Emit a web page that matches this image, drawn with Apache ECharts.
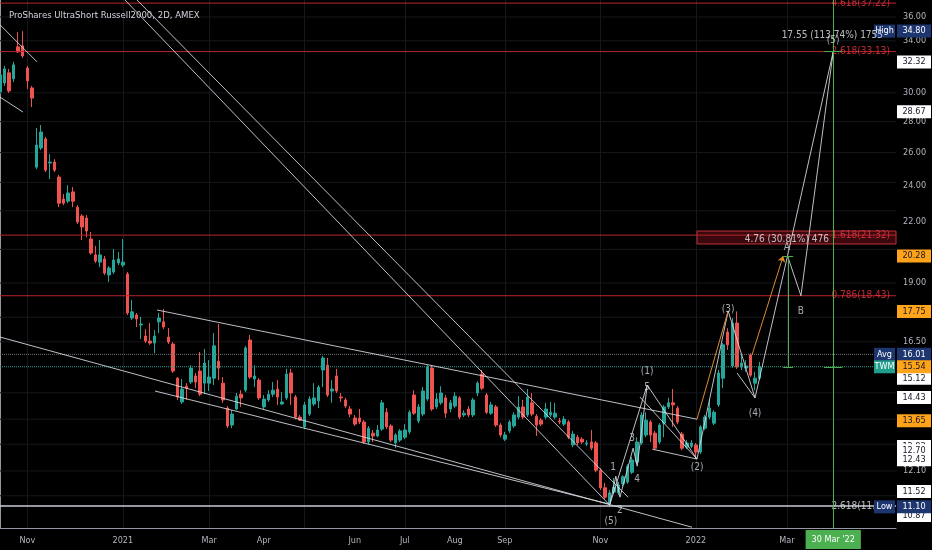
<!DOCTYPE html>
<html>
<head>
<meta charset="utf-8">
<script src="https://cdn.jsdelivr.net/npm/echarts@6/dist/echarts.min.js"></script>
<style>
html, body { margin: 0; padding: 0; background: #000; }
#chart { width: 932px; height: 550px; }
</style>
</head>
<body>
<div id="chart"></div>
<script>
// ProShares UltraShort Russell2000 (TWM), 2D candles, log price scale

const chartTitle = 'ProShares UltraShort Russell2000, 2D, AMEX';
const barCount = 198; // bars incl. empty space on the right

// [open, close, low, high] per 2-day bar
const ohlc = [
    [30.07, 31.33, 29.85, 31.55], [30.73, 31.78, 30.51, 32.01], [31.48, 30.14, 30.00, 31.78], [31.03, 32.09, 30.80, 32.32],
    [33.51, 33.10, 33.02, 34.70], [33.59, 32.79, 32.63, 34.80], [31.85, 30.88, 30.28, 32.01], [30.36, 29.63, 29.00, 30.51],
    [25.10, 26.47, 24.98, 27.57], [26.28, 27.31, 26.15, 27.77], [26.86, 24.92, 24.80, 26.99], [25.35, 25.41, 24.39, 25.90],
    [25.41, 24.92, 24.80, 25.59], [24.51, 23.02, 22.80, 24.63], [23.25, 23.02, 22.91, 23.53], [23.13, 23.59, 23.02, 24.04],
    [23.65, 23.13, 22.80, 23.93], [22.80, 22.00, 21.90, 22.91], [22.32, 21.74, 21.07, 22.42], [22.21, 21.53, 21.22, 22.37],
    [21.12, 20.42, 20.33, 21.48], [20.33, 20.03, 19.94, 20.77], [19.98, 20.33, 19.74, 21.07], [20.13, 19.46, 19.37, 20.28],
    [19.37, 19.70, 19.05, 19.79], [19.51, 20.08, 19.42, 20.62], [19.94, 20.13, 19.84, 20.47], [19.84, 19.98, 19.74, 21.12],
    [19.42, 17.68, 17.60, 19.51], [17.47, 17.73, 17.39, 18.24], [17.60, 17.43, 17.10, 17.68], [17.18, 17.22, 16.61, 17.52],
    [16.73, 16.53, 16.45, 17.01], [16.53, 16.45, 16.38, 17.26], [16.45, 16.73, 16.06, 16.97], [17.31, 17.47, 16.85, 17.68],
    [17.31, 17.10, 17.01, 17.85], [16.69, 16.49, 16.41, 17.05], [16.41, 15.38, 15.31, 16.49], [15.12, 14.45, 14.35, 15.16],
    [14.28, 14.73, 14.21, 15.09], [14.83, 14.76, 14.35, 14.94], [14.98, 15.49, 14.91, 15.60], [15.20, 14.98, 14.76, 15.31],
    [15.38, 14.55, 14.48, 16.10], [14.94, 15.68, 14.55, 16.22], [14.94, 15.16, 14.66, 15.79], [15.12, 16.34, 14.87, 16.85],
    [15.75, 15.49, 15.05, 17.22], [14.94, 14.35, 14.25, 15.16], [14.07, 13.48, 13.41, 14.14], [13.51, 13.87, 13.41, 14.00],
    [14.04, 14.48, 14.00, 14.59], [14.55, 14.42, 14.11, 14.69], [14.69, 16.26, 14.62, 16.34], [16.57, 15.16, 15.09, 16.77],
    [15.09, 15.20, 14.80, 15.60], [15.05, 14.42, 14.35, 15.12], [14.11, 14.38, 14.04, 14.52], [14.35, 14.55, 14.28, 14.69],
    [14.55, 14.69, 14.45, 14.98], [14.73, 14.45, 14.18, 15.05], [14.21, 14.28, 14.18, 14.62], [14.42, 15.27, 14.35, 15.46],
    [15.31, 14.59, 14.18, 15.46], [14.45, 13.77, 13.70, 14.52], [13.77, 13.67, 13.64, 13.84], [13.45, 14.18, 13.38, 14.28],
    [13.87, 14.38, 13.80, 14.48], [14.21, 14.42, 14.14, 14.94], [14.32, 14.80, 14.07, 14.87], [15.42, 15.87, 14.80, 15.95],
    [15.60, 14.52, 14.45, 15.87], [14.66, 14.73, 14.25, 15.05], [15.20, 14.66, 14.59, 15.46], [14.45, 14.42, 14.28, 14.59],
    [14.35, 14.14, 14.07, 14.42], [14.04, 13.87, 13.77, 14.14], [13.74, 13.54, 13.48, 13.84], [13.74, 13.61, 13.54, 14.04],
    [13.61, 12.97, 12.91, 13.67], [12.97, 13.41, 12.88, 13.48], [13.25, 13.16, 12.97, 13.35], [13.16, 13.35, 13.12, 13.51],
    [13.38, 14.25, 13.32, 14.35], [13.93, 13.45, 13.38, 14.07], [13.48, 13.03, 12.97, 13.54], [12.94, 13.19, 12.78, 13.25],
    [13.03, 13.32, 12.97, 13.38], [13.12, 13.35, 13.06, 13.54], [13.29, 13.93, 13.22, 14.00], [14.52, 13.90, 13.84, 14.69],
    [13.64, 14.11, 13.57, 14.21], [13.87, 14.66, 13.80, 14.80], [14.38, 15.53, 14.32, 15.60], [15.49, 14.04, 13.97, 15.57],
    [14.11, 14.38, 14.04, 14.59], [14.25, 14.59, 14.18, 14.83], [14.42, 13.90, 13.74, 14.52], [14.04, 14.25, 13.93, 14.35],
    [14.14, 14.48, 14.07, 14.62], [14.42, 13.77, 13.70, 14.48], [13.84, 13.90, 13.77, 14.00], [14.04, 13.84, 13.77, 14.14],
    [13.84, 14.35, 13.77, 14.42], [14.59, 14.94, 14.48, 15.01], [15.27, 14.76, 14.69, 15.42], [14.52, 13.93, 13.87, 14.59],
    [13.90, 14.18, 13.84, 14.28], [14.11, 13.51, 13.45, 14.18], [13.51, 13.19, 13.12, 13.57], [13.06, 13.19, 13.00, 13.29],
    [13.32, 13.61, 13.25, 13.67], [13.48, 13.84, 13.41, 13.93], [13.77, 14.11, 13.70, 14.48], [14.11, 13.77, 13.70, 14.35],
    [13.84, 14.45, 13.77, 14.73], [14.25, 13.87, 13.80, 14.59], [13.80, 13.51, 13.16, 13.87], [13.67, 13.54, 13.48, 13.74],
    [13.77, 14.04, 13.70, 14.25], [13.84, 13.93, 13.77, 14.28], [13.77, 13.90, 13.70, 14.25], [13.64, 13.61, 13.54, 13.74],
    [13.54, 13.70, 13.48, 13.80], [13.61, 13.12, 13.06, 13.67], [12.88, 13.22, 12.81, 13.32], [13.12, 12.94, 12.88, 13.19],
    [13.06, 12.97, 12.91, 13.12], [12.91, 12.94, 12.84, 13.03], [12.97, 12.78, 12.72, 13.35], [12.94, 12.12, 12.06, 13.00],
    [12.12, 11.62, 11.56, 12.18], [11.62, 11.36, 11.31, 11.76], [11.20, 11.48, 11.10, 11.56], [11.50, 11.64, 11.45, 11.90],
    [11.48, 11.70, 11.42, 11.78], [11.73, 11.93, 11.67, 11.98], [11.78, 12.24, 11.73, 12.30], [12.06, 12.42, 12.01, 12.51],
    [12.36, 12.97, 12.30, 13.12], [12.94, 13.84, 12.88, 13.93], [13.19, 13.67, 13.12, 13.93], [13.61, 13.19, 12.97, 13.67],
    [13.25, 12.78, 12.72, 13.32], [12.97, 13.51, 12.91, 13.57], [13.57, 14.11, 13.12, 14.18], [14.11, 14.25, 14.04, 14.42],
    [14.25, 14.18, 13.45, 14.73], [14.07, 13.61, 13.54, 14.14], [13.22, 12.78, 12.72, 13.29], [12.81, 12.94, 12.75, 13.03],
    [12.84, 12.94, 12.78, 13.03], [12.88, 12.66, 12.45, 12.94], [12.66, 13.45, 12.60, 13.51], [13.41, 13.77, 13.35, 13.84],
    [13.77, 14.07, 13.70, 14.35], [13.57, 13.93, 13.51, 14.00], [14.18, 15.31, 14.11, 15.42], [15.12, 16.38, 14.76, 16.45],
    [16.89, 16.38, 16.18, 17.05], [15.57, 17.26, 15.49, 17.47], [17.26, 15.53, 15.46, 17.75], [15.53, 15.68, 15.42, 15.99],
    [15.49, 15.57, 15.35, 15.79], [15.99, 15.23, 15.16, 16.06], [14.94, 15.12, 14.69, 15.35], [15.12, 15.54, 15.05, 15.72]
];

// time axis labels (bar index -> text)
const xTickIdx = [6, 27, 46, 58, 78, 89, 100, 111, 132, 153, 173];
const xTickText = ['Nov', '2021', 'Mar', 'Apr', 'Jun', 'Jul', 'Aug', 'Sep', 'Nov', '2022', 'Mar'];
const xGridIdx = [6, 27, 46, 67, 89, 111, 132, 153, 173];

// price axis
const yTicks = [36, 34, 30, 28, 26, 24, 22, 19, 16.5, 12.1];
const yGrid = [36, 34, 30, 28, 26, 24.2, 22.6, 20.6, 19, 17.5, 16.5, 14.6, 13.7, 12.9, 12.1, 11.4];

// fib levels
const fibPrices = [37.22, 33.13, 21.32, 18.43];
const fibText = ['4.618(37.22)', '2.618(33.13)', '1.618(21.32)', '0.786(18.43)'];
const lowFibPrice = 11.12;
const lowFibText = '2.618(11.12)';

// price badges on the axis
const badgeValues = [32.32, 28.67, 20.28, 17.75, 15.12, 14.43, 13.65, 12.83, 12.70, 12.43, 11.52, 10.87, 34.80, 16.01, 15.54, 11.10];
const badgeKind = ['white', 'white', 'orange', 'orange', 'white', 'white', 'orange', 'white', 'white', 'white', 'white', 'white', 'navy', 'navy', 'orange', 'navy'];
const badgeTag = ['', '', '', '', '', '', '', '', '', '', '', '', 'High', 'Avg', 'TWM', 'Low'];
const avgPrice = 16.01;
const lastPrice = 15.54;

// drawings, in [bar index, price]
const whiteLines = [
    [[0, 35.33], [8.14, 32.32]],
    [[0, 29.70], [5.06, 28.65]],
    [[27.48, 37.5], [134.1, 11.14]],
    [[30.12, 37.5], [138.1, 11.36]],
    [[34.52, 17.81], [153.25, 13.70]],
    [[0, 16.69], [152.15, 10.57]],
    [[34.08, 14.66], [134.1, 11.17]],
    [[134.1, 11.17], [135.4, 11.95], [136.3, 11.36], [139.2, 12.78], [140.1, 12.24], [142.3, 14.87]],
    [[134.1, 11.17], [142.3, 14.87]],
    [[142.3, 14.87], [153.25, 12.45]],
    [[140.7, 14.45], [153.25, 12.45]],
    [[143.4, 12.75], [153.25, 12.45]],
    [[153.25, 12.45], [160.1, 17.77], [166.0, 14.42]],
    [[162.05, 15.31], [166.0, 14.42]],
    [[166.0, 14.42], [173.15, 20.28], [176.1, 18.43], [183.2, 33.13]],
    [[173.15, 20.28], [183.2, 33.13]]
];
const orangeLines = [
    [[153.25, 13.70], [160.1, 17.77]]
];
const orangeArrows = [
    [[165.35, 15.99], [172.2, 20.28]]
];
const greenLines = [
    [[173.3, 15.54], [173.3, 20.28]],
    [[172.2, 20.28], [174.4, 20.28]],
    [[172.2, 15.54], [174.4, 15.54]],
    [[181.2, 15.54], [185.2, 15.54]],
    [[181.2, 33.13], [185.2, 33.13]]
];
const dateLineIdx = 183.2;
const dateLineText = "30 Mar '22";
const rectBox = [[153.25, 21.53], [197, 20.87]];

const waveText = ['(1)', '5', '3', '1', '4', '2', '(5)', '(2)', '(3)', '(4)', 'A', 'B', '(5)'];
const waveAt = [[142.3, 15.35], [142.3, 14.80], [139.0, 13.09], [134.8, 12.21], [140.1, 11.87], [136.3, 11.01],
    [134.3, 10.72], [153.25, 12.21], [160.1, 17.85], [166.0, 13.90], [173.0, 20.72], [176.1, 17.77], [183.2, 34.00]];
const measureText = ['17.55 (113.74%) 1755', '4.76 (30.81%) 476'];
const measureAt = [[183.0, 34.41], [173.0, 21.12]];

const FONT = '"Liberation Sans Narrow", "DejaVu Sans Condensed", "Liberation Sans", sans-serif';

const chart = echarts.init(document.getElementById('chart'));
const cats = Array.from({ length: barCount }, (_, i) => String(i));
const xEnd = barCount - 1;

// polylines -> markLine segment pairs
function toSegments(lines) {
    const out = [];
    lines.forEach(pts => {
        for (let i = 1; i < pts.length; i++) {
            out.push([{ coord: pts[i - 1] }, { coord: pts[i] }]);
        }
    });
    return out;
}

function overlay(extra) {
    return Object.assign({
        type: 'line',
        xAxisIndex: 1,
        yAxisIndex: 0,
        data: [],
        symbol: 'none',
        silent: true,
        animation: false,
    }, extra);
}

// full-width horizontal level drawn as a plain line series
function levelSeries(price, lineStyle, z) {
    return overlay({ z: z, data: [[0, price], [xEnd, price]], lineStyle: lineStyle, itemStyle: { color: lineStyle.color } });
}

// text placed left of the right edge on a level
function levelLabels(prices, texts, color, z) {
    return {
        type: 'scatter',
        xAxisIndex: 1,
        yAxisIndex: 0,
        symbolSize: 0,
        silent: true,
        z: z,
        label: { show: true, position: 'left', distance: 6, color: color, fontSize: 10, fontFamily: FONT, formatter: p => p.name },
        data: prices.map((v, i) => ({ value: [xEnd, v], name: texts[i] })),
    };
}

const badgeBase = { width: 28, padding: [2, 3], align: 'center', fontSize: 9, lineHeight: 10, fontFamily: FONT };
const tagBase = { width: 17, padding: [2, 2], align: 'center', fontSize: 9, lineHeight: 10, fontFamily: FONT, color: '#ffffff' };
const badgeRich = {
    navy: Object.assign({ backgroundColor: '#1d3670', color: '#ffffff' }, badgeBase),
    white: Object.assign({ backgroundColor: '#ffffff', color: '#131722' }, badgeBase),
    orange: Object.assign({ backgroundColor: '#ffa31a', color: '#131722' }, badgeBase),
    tnavy: Object.assign({ backgroundColor: '#1d3670' }, tagBase),
    tteal: Object.assign({ backgroundColor: '#1f9e8c' }, tagBase),
    gap: { width: 2 },
};

const badgeItems = badgeValues.map((v, i) => {
    const val = '{' + badgeKind[i] + '|' + v.toFixed(2) + '}';
    const tag = badgeTag[i];
    return [{
        coord: [0, v],
        label: {
            show: true,
            position: 'end',
            distance: 1,
            rich: badgeRich,
            formatter: tag ? '{' + (tag === 'TWM' ? 'tteal' : 'tnavy') + '|' + tag + '}{gap|}' + val : val,
            offset: tag ? [-23, 0] : [0, 0],
        },
    }, { coord: [xEnd, v] }];
});

const gridStyle = { color: '#15171c', width: 1, type: 'solid' };
const fibStyle = { color: '#b8262f', width: 1, type: 'solid' };
const lowFibStyle = { color: '#c9ccd4', width: 1.5, type: 'solid' };
const avgStyle = { color: '#6d717b', width: 1, type: 'dotted' };
const lastStyle = { color: '#2f9e8e', width: 1, type: 'dotted' };

const option = {
    backgroundColor: '#000000',
    animation: false,
    textStyle: { fontFamily: FONT },
    title: {
        text: chartTitle,
        left: 4,
        top: 6,
        textStyle: { color: '#d1d4dc', fontSize: 9.5, fontWeight: 'normal', fontFamily: FONT },
    },
    grid: { left: 0, right: 36, top: 0, bottom: 22, outerBoundsMode: 'none' },
    xAxis: [
        {
            type: 'category',
            data: cats,
            boundaryGap: false,
            axisLine: { show: true, lineStyle: { color: '#9598a1' } },
            axisTick: { show: false },
            axisLabel: {
                interval: (i) => xTickIdx.indexOf(i) >= 0,
                formatter: (v, i) => xTickText[xTickIdx.indexOf(i)] || '',
                color: '#b2b5be',
                fontSize: 9,
                margin: 8,
                fontFamily: FONT,
            },
            splitLine: {
                show: true,
                interval: (i) => xGridIdx.indexOf(i) >= 0,
                lineStyle: { color: '#15171c', width: 1 },
            },
        },
        { type: 'value', min: 0, max: xEnd, show: false },
    ],
    yAxis: {
        type: 'log',
        min: 10.55,
        max: 37.5,
        position: 'right',
        axisLine: { show: true, lineStyle: { color: '#9598a1' } },
        axisTick: { show: false },
        splitLine: { show: false },
        axisLabel: {
            customValues: yTicks,
            formatter: (v) => Number(v).toFixed(2),
            color: '#b2b5be',
            fontSize: 9,
            margin: 7,
            fontFamily: FONT,
        },
    },
    series: [].concat(
        // horizontal grid
        yGrid.map(v => levelSeries(v, gridStyle, 0)),
        [
            // rectangle
            overlay({
                z: 1,
                markArea: {
                    silent: true,
                    itemStyle: { color: 'rgba(130, 20, 28, 0.45)', borderColor: '#c0303a', borderWidth: 1 },
                    data: [[{ coord: rectBox[0] }, { coord: rectBox[1] }]],
                },
            }),
            {
                type: 'candlestick',
                xAxisIndex: 0,
                yAxisIndex: 0,
                data: ohlc,
                barWidth: 3,
                z: 2,
                itemStyle: {
                    color: '#26a69a', color0: '#ef5350',
                    borderColor: '#26a69a', borderColor0: '#ef5350', borderWidth: 1,
                },
            },
        ],
        // fib levels, avg / last price dotted lines
        fibPrices.map(v => levelSeries(v, fibStyle, 3)),
        [
            levelSeries(lowFibPrice, lowFibStyle, 3),
            levelSeries(avgPrice, avgStyle, 3),
            levelSeries(lastPrice, lastStyle, 3),
            levelLabels(fibPrices, fibText, '#f23645', 4),
            levelLabels([lowFibPrice], [lowFibText], '#e0e3eb', 4),
            // drawings
            overlay({
                z: 3,
                markLine: {
                    silent: true, symbol: 'none', label: { show: false },
                    lineStyle: { color: 'rgba(222, 225, 232, 0.85)', width: 1, type: 'solid' },
                    data: toSegments(whiteLines),
                },
            }),
            overlay({
                z: 3,
                markLine: {
                    silent: true, symbol: 'none', label: { show: false },
                    lineStyle: { color: '#e08a2c', width: 1, type: 'solid' },
                    data: toSegments(orangeLines),
                },
            }),
            overlay({
                z: 3,
                markLine: {
                    silent: true, symbol: ['none', 'arrow'], symbolSize: 6, label: { show: false },
                    lineStyle: { color: '#e08a2c', width: 1, type: 'solid' },
                    itemStyle: { color: '#e08a2c' },
                    data: toSegments(orangeArrows),
                },
            }),
            overlay({
                z: 3,
                markLine: {
                    silent: true, symbol: 'none', label: { show: false },
                    lineStyle: { color: '#4caf50', width: 1, type: 'solid' },
                    data: toSegments(greenLines),
                },
            }),
            overlay({
                z: 4,
                markLine: {
                    silent: true, symbol: 'none',
                    lineStyle: { color: '#4caf50', width: 1, type: 'solid' },
                    label: {
                        show: true, position: 'start', distance: 2, formatter: dateLineText,
                        backgroundColor: '#4caf50', color: '#ffffff', padding: [5, 6], fontSize: 9, fontFamily: FONT,
                    },
                    data: [{ xAxis: dateLineIdx }],
                },
            }),
            // wave labels + measure labels
            {
                type: 'scatter',
                xAxisIndex: 1,
                yAxisIndex: 0,
                symbolSize: 0,
                silent: true,
                z: 5,
                label: { show: true, position: 'inside', color: '#d1d4dc', fontSize: 10, fontFamily: FONT, formatter: p => p.name },
                data: waveAt.map((c, i) => ({ value: c, name: waveText[i] })),
            },
            {
                type: 'scatter',
                xAxisIndex: 1,
                yAxisIndex: 0,
                symbolSize: 0,
                silent: true,
                z: 6,
                label: { show: true, position: 'inside', color: '#e6e8ee', fontSize: 10, fontFamily: FONT, formatter: p => p.name },
                data: measureAt.map((c, i) => ({ value: c, name: measureText[i] })),
            },
            // axis badges
            overlay({
                z: 10,
                markLine: {
                    silent: true, symbol: 'none',
                    lineStyle: { color: 'rgba(0,0,0,0)', width: 1, type: 'solid' },
                    data: badgeItems,
                },
            }),
        ]
    ),
};

chart.setOption(option);
</script>
</body>
</html>
